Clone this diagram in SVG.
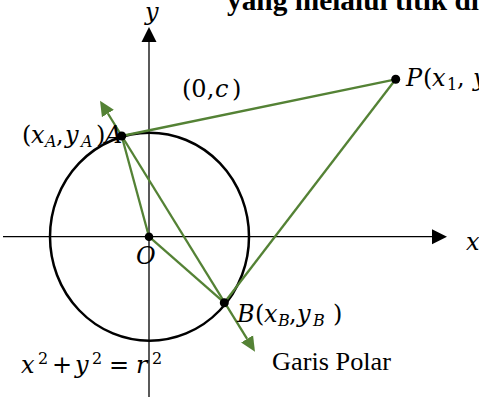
<svg xmlns="http://www.w3.org/2000/svg" width="479" height="397" viewBox="0 0 479 397">
<style>
  .math { font-family: "DejaVu Serif", "Liberation Serif", serif; font-size: 24px; fill: #000; }
  .it { font-style: italic; }
  .sub { font-size: 16px; font-style: italic; }
  .sup { font-size: 16px; }
  .axis { stroke: #000; stroke-width: 1.3; fill: none; }
  .green { stroke: #548235; stroke-width: 2.3; fill: none; }
  .dot { fill: #000; }
  .plain { font-family: "Liberation Serif", "Times New Roman", serif; fill: #000; }
</style>
<defs>
  <marker id="blackArrow" markerUnits="userSpaceOnUse" markerWidth="16" markerHeight="16" refX="0" refY="8" orient="auto" viewBox="0 0 16 16">
    <path d="M0,0.5 L15,8 L0,15.5 z" fill="#000"/>
  </marker>
  <marker id="greenArrow" markerUnits="userSpaceOnUse" markerWidth="16" markerHeight="16" refX="0" refY="8" orient="auto-start-reverse" viewBox="0 0 16 16">
    <path d="M0,1 L15,8 L0,15 z" fill="#548235"/>
  </marker>
</defs>
<rect width="479" height="397" fill="#fff"/>

<text id="title" class="plain" x="227" y="10" font-size="29" font-weight="bold" textLength="252" lengthAdjust="spacingAndGlyphs">yang melalui titik di</text>

<g id="circle">
  <ellipse cx="149.5" cy="236.7" rx="99.5" ry="104" fill="none" stroke="#000" stroke-width="2.5"/>
</g>

<g id="axes">
  <line class="axis" x1="149" y1="397" x2="149" y2="42" marker-end="url(#blackArrow)"/>
  <line class="axis" x1="3" y1="236.7" x2="432" y2="236.7" marker-end="url(#blackArrow)"/>
  <text class="math it" x="145" y="20">y</text>
  <text class="math it" x="466" y="250">x</text>
</g>

<g id="connectors">
  <line class="green" x1="121.7" y1="136" x2="395.7" y2="79.3"/>
  <line class="green" x1="395.7" y1="79.3" x2="224.3" y2="302.7"/>
  <line class="green" x1="149" y1="236.7" x2="121.7" y2="136"/>
  <line class="green" x1="149" y1="236.7" x2="224.3" y2="302.7"/>
  <line id="polar" class="green" x1="107.9" y1="113.5" x2="247.1" y2="338.9" marker-start="url(#greenArrow)" marker-end="url(#greenArrow)"/>
</g>

<g id="node-c">
  <text class="math"><tspan x="182" y="97">(0,</tspan><tspan class="it" x="215" y="97">c</tspan><tspan x="232" y="97">)</tspan></text>
</g>

<g id="node-P">
  <circle class="dot" cx="395.7" cy="79.3" r="4.5"/>
  <text class="math"><tspan class="it" x="406" y="86">P</tspan><tspan x="423" y="86">(</tspan><tspan class="it" x="432" y="86">x</tspan><tspan class="sup" x="447" y="90">1</tspan><tspan x="457" y="86">,</tspan><tspan class="it" x="473" y="86">y</tspan><tspan class="sup" x="488" y="90">1</tspan><tspan x="498" y="86">)</tspan></text>
</g>

<g id="node-A">
  <circle class="dot" cx="121.7" cy="136" r="4.5"/>
  <text class="math"><tspan x="22" y="143">(</tspan><tspan class="it" x="31" y="143">x</tspan><tspan class="sub" x="45" y="147">A</tspan><tspan x="56" y="143">,</tspan><tspan class="it" x="65" y="143">y</tspan><tspan class="sub" x="81" y="147">A</tspan><tspan x="96" y="143">)</tspan><tspan class="it" x="105" y="143">A</tspan></text>
</g>

<g id="node-O">
  <circle class="dot" cx="149" cy="236.7" r="4.3"/>
  <text class="math it" x="136" y="264">O</text>
</g>

<g id="node-B">
  <circle class="dot" cx="224.3" cy="302.7" r="4.5"/>
  <text class="math"><tspan class="it" x="237" y="322">B</tspan><tspan x="255" y="322">(</tspan><tspan class="it" x="264" y="322">x</tspan><tspan class="sub" x="278" y="326">B</tspan><tspan x="289" y="322">,</tspan><tspan class="it" x="297" y="322">y</tspan><tspan class="sub" x="313" y="326">B</tspan><tspan x="333" y="322">)</tspan></text>
</g>

<g id="equation">
  <text class="math"><tspan class="it" x="21" y="373">x</tspan><tspan class="sup" x="38" y="364">2</tspan><tspan x="52" y="373">+</tspan><tspan class="it" x="75" y="373">y</tspan><tspan class="sup" x="92" y="364">2</tspan><tspan x="109" y="373">=</tspan><tspan class="it" x="136" y="373">r</tspan><tspan class="sup" x="152" y="364">2</tspan></text>
</g>

<g id="label-polar">
  <text class="plain" x="272" y="370" font-size="26" textLength="119" lengthAdjust="spacingAndGlyphs">Garis Polar</text>
</g>
</svg>
